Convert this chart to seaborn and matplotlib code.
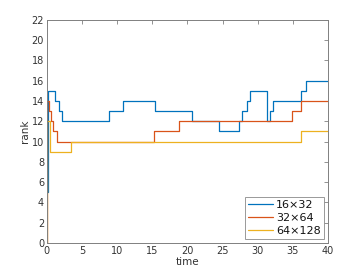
import matplotlib
matplotlib.use("Agg")
import matplotlib.pyplot as plt
import seaborn as sns
import pandas as pd

# ---- data ----
blue_t = [0, 0.1, 1.2, 1.8, 2.2, 8.8, 10.8, 15.4, 20.6, 24.5, 27.3, 27.8, 28.5, 28.9, 31.3, 31.7, 32.1, 36.1, 36.9, 40]
blue_r = [5, 15, 14, 13, 12, 13, 14, 13, 12, 11, 12, 13, 14, 15, 12, 13, 14, 15, 16, 16]

red_t = [0, 0.05, 0.3, 0.6, 0.9, 1.5, 15.2, 18.8, 34.9, 36.1, 40]
red_r = [0, 14, 13, 12, 11, 10, 11, 12, 13, 14, 14]

yel_t = [0, 0.05, 0.5, 3.4, 36.1, 40]
yel_r = [0, 12, 9, 10, 11, 11]

labels = ["16\u00d732", "32\u00d764", "64\u00d7128"]
colors = ["#0072BD", "#D95319", "#EDB120"]

xticks = list(range(0, 41, 5))
yticks = list(range(0, 23, 2))

sns.set_theme(style="white")
plt.rcParams["font.family"] = ["DejaVu Sans"]

fig = plt.figure(figsize=(3.63, 2.73), dpi=100)
ax = fig.add_axes([0.129, 0.110, 0.775, 0.817])

series = [(blue_t, blue_r), (red_t, red_r), (yel_t, yel_r)]
for (t, r), lab, c in zip(series, labels, colors):
    df = pd.DataFrame({"time": t, "rank": r})
    sns.lineplot(data=df, x="time", y="rank", ax=ax, color=c, label=lab,
                 drawstyle="steps-post", linewidth=0.9, estimator=None, sort=False)

ax.set_xlim(0, 40)
ax.set_ylim(0, 22)
ax.set_xticks(xticks)
ax.set_yticks(yticks)
ax.tick_params(direction="in", length=3, width=0.6, colors="#808080",
               labelcolor="#333333", labelsize=7, top=True, right=True, pad=2)
for s in ax.spines.values():
    s.set_visible(True)
    s.set_color("#808080")
    s.set_linewidth(0.7)
ax.set_xlabel("time", fontsize=7.5, color="#333333", labelpad=1)
ax.set_ylabel("rank", fontsize=7.5, color="#333333", labelpad=1)

leg = ax.legend(loc="lower right", fontsize=8, frameon=True, fancybox=False,
                handlelength=2.2, handletextpad=0.3, borderpad=0.3,
                labelspacing=0.25, borderaxespad=0.35)
leg.get_frame().set_edgecolor("#808080")
leg.get_frame().set_linewidth(0.7)
for txt in leg.get_texts():
    txt.set_color("#111111")

fig.savefig("out.png", dpi=100, facecolor="white")
